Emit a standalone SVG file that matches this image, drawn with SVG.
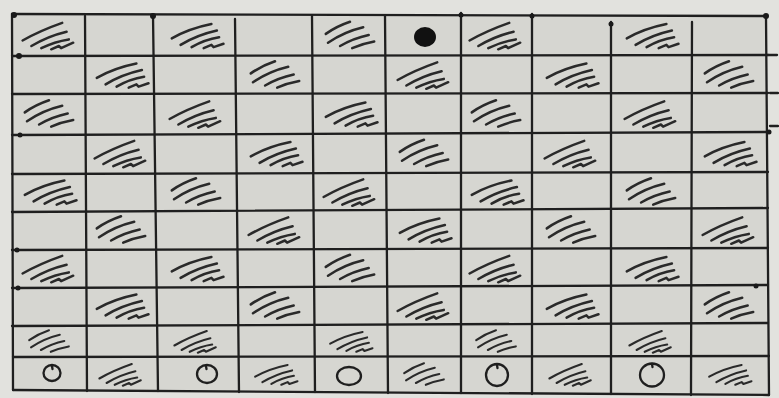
<svg xmlns="http://www.w3.org/2000/svg" xmlns:xlink="http://www.w3.org/1999/xlink" width="779" height="398" viewBox="0 0 779 398">
<style>
.ln{stroke:#1f1f1f;stroke-width:2.3;fill:none;stroke-linecap:round;stroke-linejoin:round}
.ht{stroke:#2a2a2a;stroke-width:2.3;fill:none;stroke-linecap:round;stroke-linejoin:round}
.mk{fill:#1a1a1a}
</style>
<defs>
<g id="h1" class="ht">
<path d="M-24,5 Q-8,-4 12,-11"/>
<path d="M-16,10 Q-1,1 16,-3"/>
<path d="M-7,12 Q5,6 18,4"/>
<path d="M2,13 L9,10 L11,12 L22,7"/>
</g>
<g id="h2" class="ht">
<path d="M-22,3 Q-6,-6 14,-10"/>
<path d="M-14,9 Q1,0 19,-4"/>
<path d="M-4,11 Q8,4 21,2"/>
<path d="M7,12 L14,9 L16,11 L25,8"/>
</g>
<g id="h3" class="ht">
<path d="M-22,-1 Q-12,-8 0,-12"/>
<path d="M-20,7 Q-5,-3 12,-7"/>
<path d="M-9,10 Q3,3 17,0"/>
<path d="M2,12 Q11,8 22,6"/>
</g>
</defs>
<rect x="0" y="0" width="779" height="398" fill="#e2e2de"/>
<polygon points="12,14 766,16 769,395 13,390" fill="#d6d6d1"/>
<g id="grid">
<path class="ln" d="M12,14 L766,16"/>
<path class="ln" d="M12,56 L768,55"/>
<path class="ln" d="M12,94 L768,93"/>
<path class="ln" d="M12,135 L768,132"/>
<path class="ln" d="M12,174 L768,172"/>
<path class="ln" d="M12,212 L768,208"/>
<path class="ln" d="M12,250 L768,248"/>
<path class="ln" d="M12,288 L768,285"/>
<path class="ln" d="M12,326 L768,323"/>
<path class="ln" d="M13,357 L769,356"/>
<path class="ln" d="M13,390 L769,395"/>
<path class="ln" d="M12,14 L13,390"/>
<path class="ln" d="M85,16 L87,391"/>
<path class="ln" d="M153,15 L158,391"/>
<path class="ln" d="M235,19 L239,392"/>
<path class="ln" d="M312,16 L315,392"/>
<path class="ln" d="M385,16 L388,393"/>
<path class="ln" d="M461,13 L461,393"/>
<path class="ln" d="M532,14 L532,394"/>
<path class="ln" d="M611,22 L611,394"/>
<path class="ln" d="M692,22 L691,395"/>
<path class="ln" d="M766,16 L769,395"/>
<path class="ln" d="M768,55 L777,55"/>
<path class="ln" d="M770,93 L778,93"/>
<path class="ln" d="M770,126 L778,126"/>
</g>
<g id="marks">
<circle class="mk" cx="14" cy="15" r="3"/>
<circle class="mk" cx="153" cy="16" r="3"/>
<circle class="mk" cx="461" cy="15" r="2.5"/>
<circle class="mk" cx="532" cy="16" r="2.5"/>
<circle class="mk" cx="611" cy="24" r="2.5"/>
<circle class="mk" cx="766" cy="16" r="3"/>
<circle class="mk" cx="19" cy="56" r="3"/>
<circle class="mk" cx="20" cy="135" r="2.5"/>
<circle class="mk" cx="17" cy="250" r="2.5"/>
<circle class="mk" cx="18" cy="288" r="2.5"/>
<circle class="mk" cx="769" cy="132" r="2.5"/>
<circle class="mk" cx="756" cy="286" r="2.5"/>
</g>
<g id="hatches">
<use href="#h1" transform="translate(49,35) scale(1.1)"/>
<use href="#h2" transform="translate(196,35) scale(1.1)"/>
<use href="#h3" transform="translate(350,35) scale(1.1)"/>
<use href="#h1" transform="translate(496,35) scale(1.1)"/>
<use href="#h2" transform="translate(651,35) scale(1.1)"/>
<use href="#h2" transform="translate(121,74.5) scale(1.1)"/>
<use href="#h3" transform="translate(275,74.5) scale(1.1)"/>
<use href="#h1" transform="translate(424,74.5) scale(1.1)"/>
<use href="#h2" transform="translate(571,74.5) scale(1.1)"/>
<use href="#h3" transform="translate(729,74.5) scale(1.1)"/>
<use href="#h3" transform="translate(49,113.5) scale(1.1)"/>
<use href="#h1" transform="translate(196,113.5) scale(1.1)"/>
<use href="#h2" transform="translate(350,113.5) scale(1.1)"/>
<use href="#h3" transform="translate(496,113.5) scale(1.1)"/>
<use href="#h1" transform="translate(651,113.5) scale(1.1)"/>
<use href="#h1" transform="translate(121,153) scale(1.1)"/>
<use href="#h2" transform="translate(275,153) scale(1.1)"/>
<use href="#h3" transform="translate(424,153) scale(1.1)"/>
<use href="#h1" transform="translate(571,153) scale(1.1)"/>
<use href="#h2" transform="translate(729,153) scale(1.1)"/>
<use href="#h2" transform="translate(49,191.5) scale(1.1)"/>
<use href="#h3" transform="translate(196,191.5) scale(1.1)"/>
<use href="#h1" transform="translate(350,191.5) scale(1.1)"/>
<use href="#h2" transform="translate(496,191.5) scale(1.1)"/>
<use href="#h3" transform="translate(651,191.5) scale(1.1)"/>
<use href="#h3" transform="translate(121,229.5) scale(1.1)"/>
<use href="#h1" transform="translate(275,229.5) scale(1.1)"/>
<use href="#h2" transform="translate(424,229.5) scale(1.1)"/>
<use href="#h3" transform="translate(571,229.5) scale(1.1)"/>
<use href="#h1" transform="translate(729,229.5) scale(1.1)"/>
<use href="#h1" transform="translate(49,268) scale(1.1)"/>
<use href="#h2" transform="translate(196,268) scale(1.1)"/>
<use href="#h3" transform="translate(350,268) scale(1.1)"/>
<use href="#h1" transform="translate(496,268) scale(1.1)"/>
<use href="#h2" transform="translate(651,268) scale(1.1)"/>
<use href="#h2" transform="translate(121,305.5) scale(1.1)"/>
<use href="#h3" transform="translate(275,305.5) scale(1.1)"/>
<use href="#h1" transform="translate(424,305.5) scale(1.1)"/>
<use href="#h2" transform="translate(571,305.5) scale(1.1)"/>
<use href="#h3" transform="translate(729,305.5) scale(1.1)"/>
<use href="#h3" transform="translate(49,341) scale(0.9)"/>
<use href="#h1" transform="translate(196,341) scale(0.9)"/>
<use href="#h2" transform="translate(350,341) scale(0.9)"/>
<use href="#h3" transform="translate(496,341) scale(0.9)"/>
<use href="#h1" transform="translate(651,341) scale(0.9)"/>
<use href="#h1" transform="translate(121,374) scale(0.9)"/>
<use href="#h2" transform="translate(275,374) scale(0.9)"/>
<use href="#h3" transform="translate(424,374) scale(0.9)"/>
<use href="#h1" transform="translate(571,374) scale(0.9)"/>
<use href="#h2" transform="translate(729,374) scale(0.9)"/>
</g>
<g id="dot">
<ellipse cx="425" cy="37" rx="11" ry="10" fill="#111"/>
</g>
<g id="circles" class="ln">
<ellipse cx="52" cy="373" rx="8.5" ry="8"/>
<path d="M52,366 L52.5,369"/>
<ellipse cx="207" cy="374" rx="10" ry="9"/>
<path d="M206,366 L206.5,369"/>
<ellipse cx="349" cy="376" rx="12" ry="9"/>
<ellipse cx="497" cy="375" rx="11" ry="11"/>
<path d="M497,365 L497.5,368"/>
<ellipse cx="652" cy="375" rx="12" ry="11.5"/>
<path d="M652,364 L652.5,367"/>
</g>
</svg>
